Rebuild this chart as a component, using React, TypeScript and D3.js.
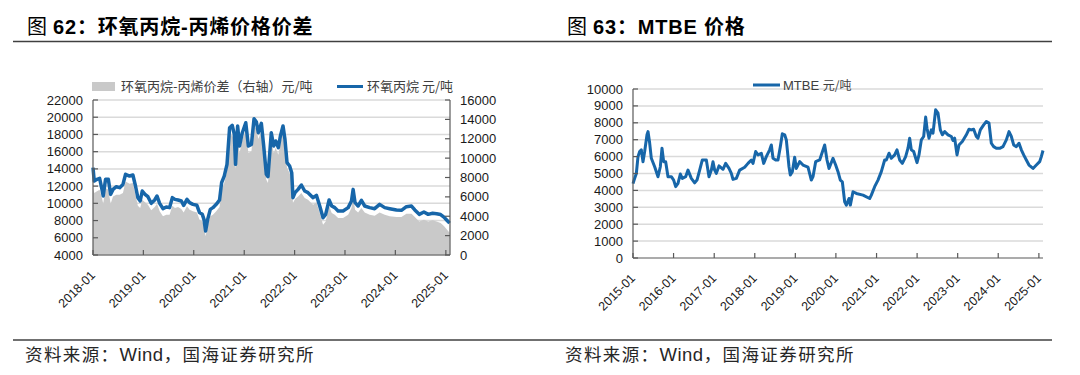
import * as d3 from "d3";

// ---- 图62 环氧丙烷 (left axis) and 环氧丙烷-丙烯价差 (right axis), 元/吨
const EPO_DATES = [
  "2018-01-01", "2018-01-10", "2018-01-30", "2018-02-18", "2018-03-07", "2018-03-16", "2018-04-02", "2018-04-22",
  "2018-05-09", "2018-05-26", "2018-06-19", "2018-07-13", "2018-08-06", "2018-08-25", "2018-09-23", "2018-10-17",
  "2018-11-05", "2018-11-22", "2018-12-09", "2018-12-24", "2019-01-13", "2019-02-03", "2019-02-27", "2019-03-24",
  "2019-04-10", "2019-04-29", "2019-05-23", "2019-06-16", "2019-07-10", "2019-07-30", "2019-08-18", "2019-09-09",
  "2019-10-03", "2019-10-20", "2019-11-13", "2019-12-02", "2019-12-26", "2020-01-24", "2020-02-12", "2020-03-03",
  "2020-03-15", "2020-03-27", "2020-04-11", "2020-04-30", "2020-05-19", "2020-06-12", "2020-07-06", "2020-07-21",
  "2020-08-09", "2020-08-29", "2020-09-17", "2020-10-06", "2020-10-21", "2020-10-30", "2020-11-14", "2020-11-28",
  "2020-12-18", "2021-01-12", "2021-01-31", "2021-02-22", "2021-03-13", "2021-03-30", "2021-04-13", "2021-05-05",
  "2021-05-22", "2021-06-10", "2021-06-22", "2021-07-16", "2021-08-02", "2021-08-17", "2021-09-05", "2021-09-20",
  "2021-10-09", "2021-10-23", "2021-11-07", "2021-11-26", "2021-12-11", "2021-12-20", "2022-01-04", "2022-01-26",
  "2022-02-19", "2022-03-15", "2022-04-08", "2022-05-15", "2022-06-08", "2022-07-02", "2022-07-26", "2022-08-14",
  "2022-09-08", "2022-09-27", "2022-10-19", "2022-11-12", "2022-12-18", "2023-01-24", "2023-02-17", "2023-03-01",
  "2023-03-15", "2023-04-06", "2023-04-30", "2023-05-24", "2023-06-29", "2023-08-04", "2023-09-09", "2023-10-16",
  "2023-11-21", "2024-01-09", "2024-02-14", "2024-03-21", "2024-04-27", "2024-05-21", "2024-06-22", "2024-07-26",
  "2024-08-26", "2024-09-27", "2024-10-26", "2024-11-24", "2024-12-18", "2025-01-10", "2025-01-28",
];
const EPO_PRICE = [
  14140, 12590, 12790, 12900, 11620, 10850, 12790, 12790, 11040, 11620, 11930, 11820, 12200, 13370, 13170, 13290,
  12010, 10660, 10270, 11430, 11040, 10770, 10000, 10390, 10850, 10000, 9380, 9570, 9500, 10660, 10460, 10390,
  10270, 9770, 10460, 10080, 9880, 9770, 8920, 8720, 8140, 6790, 8140, 9300, 9500, 9880, 10390, 12400,
  13170, 14530, 18780, 19050, 18010, 14530, 18980, 16660, 18200, 19360, 16660, 16850, 19830, 19440, 18200, 19290,
  16660, 13370, 13100, 18200, 16660, 17240, 16460, 17820, 18980, 17430, 14720, 14330, 13560, 10660, 11240, 11620,
  12130, 11430, 11240, 10660, 10930, 9690, 8330, 8720, 10390, 9690, 9500, 9110, 9110, 9500, 10270, 11620,
  10080, 9690, 10350, 9690, 9500, 9380, 9880, 9500, 9380, 9230, 9190, 9610, 9690, 9230, 8720, 8990,
  8720, 8840, 8800, 8700, 8400, 8000, 7700,
];
const EPO_SPREAD = [
  6910, 6400, 6570, 6740, 5880, 5300, 6910, 6740, 5300, 6050, 6230, 6230, 6400, 7600, 7360, 7430,
  6230, 5090, 4850, 5710, 5440, 5190, 4610, 4950, 5300, 4510, 3990, 4160, 4160, 5090, 4850, 4950,
  4750, 4400, 5020, 4680, 4510, 4400, 3650, 3470, 2960, 1930, 3030, 3990, 4160, 4510, 4950, 6740,
  7430, 8630, 12250, 12420, 11560, 8810, 12420, 10530, 11900, 12930, 10530, 10700, 13280, 13000, 11970, 12760,
  10350, 7770, 7430, 11900, 10530, 11040, 10350, 11560, 12590, 11210, 8980, 8460, 7770, 5370, 5780, 6050,
  6400, 5880, 5710, 5190, 5440, 4330, 3130, 3470, 5020, 4330, 4160, 3820, 3820, 4160, 4850, 6050,
  4680, 4400, 4850, 4400, 4160, 4060, 4400, 4160, 3990, 3920, 3920, 4270, 4270, 3920, 3470, 3650,
  3470, 3580, 3450, 3300, 3000, 2600, 2300,
];
const EPO_LEFT_TICKS = [4000, 6000, 8000, 10000, 12000, 14000, 16000, 18000, 20000, 22000];
const EPO_RIGHT_TICKS = [0, 2000, 4000, 6000, 8000, 10000, 12000, 14000, 16000];
const EPO_YEAR_TICKS = ["2018-01", "2019-01", "2020-01", "2021-01", "2022-01", "2023-01", "2024-01", "2025-01"];

// ---- 图63 MTBE 价格, 元/吨
const MTBE_DATES = [
  "2015-01-01", "2015-01-16", "2015-01-31", "2015-02-15", "2015-03-02", "2015-03-17", "2015-04-01", "2015-04-16",
  "2015-05-07", "2015-05-16", "2015-05-31", "2015-06-15", "2015-07-15", "2015-08-14", "2015-09-04", "2015-09-19",
  "2015-10-04", "2015-10-22", "2015-11-12", "2015-12-12", "2016-01-02", "2016-01-20", "2016-02-10", "2016-03-02",
  "2016-03-20", "2016-04-19", "2016-05-10", "2016-06-09", "2016-07-09", "2016-07-30", "2016-08-23", "2016-09-16",
  "2016-10-22", "2016-11-15", "2016-12-06", "2016-12-21", "2017-01-05", "2017-01-20", "2017-02-13", "2017-03-21",
  "2017-04-14", "2017-05-14", "2017-06-04", "2017-06-19", "2017-07-19", "2017-08-18", "2017-10-02", "2017-11-01",
  "2017-12-01", "2017-12-16", "2018-01-09", "2018-01-30", "2018-03-01", "2018-03-22", "2018-04-15", "2018-05-15",
  "2018-05-30", "2018-06-14", "2018-07-08", "2018-07-29", "2018-08-19", "2018-09-06", "2018-09-27", "2018-10-12",
  "2018-11-05", "2018-11-17", "2018-12-05", "2018-12-26", "2019-01-10", "2019-02-09", "2019-03-11", "2019-04-25",
  "2019-05-25", "2019-06-09", "2019-07-03", "2019-08-08", "2019-09-22", "2019-10-13", "2019-10-31", "2019-12-06",
  "2019-12-30", "2020-01-20", "2020-02-10", "2020-02-28", "2020-03-20", "2020-04-04", "2020-04-28", "2020-05-10",
  "2020-06-03", "2020-07-03", "2020-09-01", "2020-10-31", "2020-11-15", "2020-12-15", "2021-01-14", "2021-02-13",
  "2021-03-15", "2021-03-30", "2021-04-23", "2021-05-14", "2021-06-13", "2021-07-04", "2021-07-28", "2021-08-21",
  "2021-09-20", "2021-10-11", "2021-10-26", "2021-11-10", "2021-12-01", "2021-12-31", "2022-01-18", "2022-02-08",
  "2022-03-01", "2022-03-19", "2022-03-31", "2022-04-18", "2022-05-09", "2022-05-24", "2022-06-17", "2022-07-08",
  "2022-07-29", "2022-08-16", "2022-09-06", "2022-10-06", "2022-11-05", "2022-11-20", "2022-12-05", "2022-12-26",
  "2023-01-13", "2023-02-12", "2023-03-20", "2023-04-13", "2023-05-04", "2023-05-25", "2023-06-18", "2023-07-03",
  "2023-07-24", "2023-08-23", "2023-09-16", "2023-10-10", "2023-10-31", "2023-11-21", "2023-12-15", "2024-01-14",
  "2024-02-13", "2024-03-14", "2024-04-07", "2024-04-28", "2024-05-19", "2024-06-12", "2024-07-06", "2024-07-27",
  "2024-08-17", "2024-09-10", "2024-10-04", "2024-11-09", "2024-12-09", "2025-01-08", "2025-01-23", "2025-02-07",
];
const MTBE_PRICE = [
  4400, 4710, 5000, 6000, 6300, 6400, 5700, 6300, 7290, 7480, 6800, 5900, 5400, 4810, 5400, 6500,
  5700, 5700, 4810, 4810, 4610, 4220, 4420, 4970, 4710, 4810, 5200, 4710, 4450, 4610, 5200, 5800,
  5800, 4810, 5200, 5700, 5200, 5010, 5450, 5250, 5600, 5300, 5010, 4650, 4710, 5200, 5370, 5600,
  5800, 5600, 6300, 6100, 6200, 5600, 6000, 6400, 6690, 5900, 5800, 5800, 6590, 7350, 7290, 6990,
  5400, 4910, 5110, 5960, 5300, 5700, 5500, 5370, 4610, 4810, 5700, 5800, 6690, 5800, 5300, 5900,
  5500, 5110, 4610, 4510, 3330, 3130, 3520, 3130, 3920, 3820, 3720, 3520, 3720, 4220, 4610, 5110,
  5800, 5800, 6200, 5900, 6100, 6400, 5800, 5600, 6000, 6500, 7090, 6400, 6300, 5640, 6100, 6990,
  7190, 8340, 7680, 7090, 7580, 7390, 8770, 8570, 7580, 7290, 7480, 7290, 7190, 6950, 7090, 6100,
  6690, 6890, 7290, 7620, 7580, 7620, 7190, 7090, 7580, 7880, 8080, 7980, 6790, 6590, 6490, 6490,
  6590, 6990, 7480, 7190, 6690, 6590, 6790, 6400, 6100, 5800, 5500, 5300, 5500, 5700, 6000, 6360,
];
const MTBE_TICKS = [0, 1000, 2000, 3000, 4000, 5000, 6000, 7000, 8000, 9000, 10000];
const MTBE_YEAR_TICKS = [
  "2015-01", "2016-01", "2017-01", "2018-01", "2019-01", "2020-01", "2021-01", "2022-01", "2023-01", "2024-01", "2025-01",
];

const BLUE = "#1766a9";
const GRAY = "#c9c9c9";
const GRID = "#dadada";
const AXIS = "#595959";
const FONT = "'Liberation Sans', Arial, 'Noto Sans CJK SC', sans-serif";
const CJK = "'Noto Sans CJK SC', 'Liberation Sans', sans-serif";

const parseDay = d3.timeParse("%Y-%m-%d");
const parseMonth = d3.timeParse("%Y-%m");

function YearAxis({ scale, ticks, y }) {
  return (
    <g>
      {ticks.map((t) => {
        const x = scale(parseMonth(t));
        return (
          <g key={t}>
            <line x1={x} x2={x} y1={y} y2={y - 5} stroke={AXIS} strokeWidth={1.2} />
            <text
              transform={`translate(${x + 3},${y + 21}) rotate(-45)`}
              textAnchor="end"
              fontSize={12.5}
              fill="#1a1a1a"
              fontFamily={FONT}
            >
              {t}
            </text>
          </g>
        );
      })}
    </g>
  );
}

function EpoChart() {
  const M = { left: 93, right: 450, top: 100, bottom: 255 };
  const dates = EPO_DATES.map((d) => parseDay(d));
  const x = d3.scaleTime().domain([parseDay("2018-01-01"), parseDay("2025-01-31")]).range([M.left, M.right]);
  const yL = d3.scaleLinear().domain([4000, 22000]).range([M.bottom, M.top]);
  const yR = d3.scaleLinear().domain([0, 16000]).range([M.bottom, M.top]);

  const area = d3
    .area<number>()
    .x((_, i) => x(dates[i]))
    .y0(yR(0))
    .y1((d) => yR(d));
  const line = d3
    .line<number>()
    .x((_, i) => x(dates[i]))
    .y((d) => yL(d));

  return (
    <g>
      {EPO_LEFT_TICKS.map((v) => (
        <line key={v} x1={M.left} x2={M.right} y1={yL(v)} y2={yL(v)} stroke={GRID} strokeWidth={1.5} />
      ))}
      <path d={area(EPO_SPREAD)} fill={GRAY} />
      <path d={line(EPO_PRICE)} fill="none" stroke={BLUE} strokeWidth={3.5} strokeLinejoin="round" />

      <line x1={M.left} x2={M.left} y1={M.top} y2={M.bottom} stroke={AXIS} strokeWidth={1.2} />
      <line x1={M.right} x2={M.right} y1={M.top} y2={M.bottom} stroke={AXIS} strokeWidth={1.2} />
      <line x1={M.left} x2={M.right} y1={M.bottom} y2={M.bottom} stroke={AXIS} strokeWidth={1.2} />
      {EPO_LEFT_TICKS.map((v) => (
        <g key={v}>
          <line x1={M.left} x2={M.left + 5} y1={yL(v)} y2={yL(v)} stroke={AXIS} strokeWidth={1.2} />
          <text x={M.left - 10} y={yL(v)} dy="0.35em" textAnchor="end" fontSize={13} fontFamily={FONT} fill="#1a1a1a">
            {v}
          </text>
        </g>
      ))}
      {EPO_RIGHT_TICKS.map((v) => (
        <g key={v}>
          <line x1={M.right} x2={M.right - 5} y1={yR(v)} y2={yR(v)} stroke={AXIS} strokeWidth={1.2} />
          <text x={M.right + 10} y={yR(v)} dy="0.35em" textAnchor="start" fontSize={13} fontFamily={FONT} fill="#1a1a1a">
            {v}
          </text>
        </g>
      ))}
      <YearAxis scale={x} ticks={EPO_YEAR_TICKS} y={M.bottom} />

      {/* legend */}
      <rect x={92} y={82} width={23} height={9} fill={GRAY} />
      <text x={121} y={91} fontSize={13} fontFamily={CJK} fill="#404040">
        环氧丙烷-丙烯价差（右轴）元/吨
      </text>
      <line x1={337} x2={363} y1={86.5} y2={86.5} stroke={BLUE} strokeWidth={3} />
      <text x={367} y={91} fontSize={13} fontFamily={CJK} fill="#404040">
        环氧丙烷 元/吨
      </text>
    </g>
  );
}

function MtbeChart() {
  const M = { left: 633, right: 1043, top: 89, bottom: 258 };
  const dates = MTBE_DATES.map((d) => parseDay(d));
  const x = d3.scaleTime().domain([parseDay("2015-01-01"), parseDay("2025-02-07")]).range([M.left, M.right]);
  const y = d3.scaleLinear().domain([0, 10000]).range([M.bottom, M.top]);
  const line = d3
    .line<number>()
    .x((_, i) => x(dates[i]))
    .y((d) => y(d));

  return (
    <g>
      {MTBE_TICKS.slice(1).map((v) => (
        <line key={v} x1={M.left} x2={M.right} y1={y(v)} y2={y(v)} stroke={GRID} strokeWidth={1.5} />
      ))}
      <path d={line(MTBE_PRICE)} fill="none" stroke={BLUE} strokeWidth={3} strokeLinejoin="round" />
      <line x1={M.left} x2={M.left} y1={M.top} y2={M.bottom} stroke={AXIS} strokeWidth={1.2} />
      <line x1={M.left} x2={M.right} y1={M.bottom} y2={M.bottom} stroke={AXIS} strokeWidth={1.2} />
      {MTBE_TICKS.map((v) => (
        <g key={v}>
          <line x1={M.left} x2={M.left + 5} y1={y(v)} y2={y(v)} stroke={AXIS} strokeWidth={1.2} />
          <text x={M.left - 10} y={y(v)} dy="0.35em" textAnchor="end" fontSize={13} fontFamily={FONT} fill="#1a1a1a">
            {v}
          </text>
        </g>
      ))}
      <YearAxis scale={x} ticks={MTBE_YEAR_TICKS} y={M.bottom} />

      <line x1={753} x2={780} y1={85} y2={85} stroke={BLUE} strokeWidth={3} />
      <text x={783} y={89.5} fontSize={13} fontFamily={FONT} fill="#404040">
        MTBE <tspan fontFamily={CJK} fontSize={12}>元/吨</tspan>
      </text>
    </g>
  );
}

function Title({ x, num, text }) {
  return (
    <text x={x} y={34} fontSize={20} fontFamily={FONT} fill="#000" letterSpacing={0.8}>
      <tspan fontFamily={CJK}>图 </tspan>
      <tspan fontWeight="bold">{num}：</tspan>
      <tspan fontWeight="bold" fontFamily={FONT}>{text}</tspan>
    </text>
  );
}

function Source({ x }) {
  return (
    <text x={x} y={361} fontSize={17.5} fontFamily={CJK} fill="#262626" letterSpacing={1.4}>
      资料来源：<tspan fontFamily={FONT} fontSize={18.5} letterSpacing={0.5}>Wind</tspan>，国海证券研究所
    </text>
  );
}

export default function App() {
  return (
    <div style={{ position: "absolute", left: 0, top: 0 }}>
      <svg width={1080} height={375} style={{ display: "block", background: "#fff" }}>
        <Title x={27} num="62" text="环氧丙烷-丙烯价格价差" />
        <Title x={567} num="63" text="MTBE 价格" />
        <line x1={13} x2={1052} y1={41.5} y2={41.5} stroke="#404040" strokeWidth={1.5} />
        <EpoChart />
        <MtbeChart />
        <line x1={13} x2={1052} y1={340} y2={340} stroke="#404040" strokeWidth={1.5} />
        <Source x={25} />
        <Source x={565} />
      </svg>
    </div>
  );
}
